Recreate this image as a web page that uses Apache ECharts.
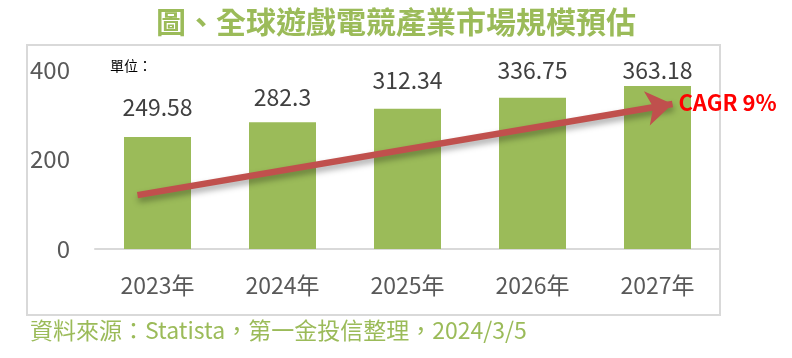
<!DOCTYPE html>
<html>
<head>
<meta charset="utf-8">
<script src="https://cdn.jsdelivr.net/npm/echarts@6/dist/echarts.min.js"></script>
<style>html,body{margin:0;padding:0;background:#fff;}#c{width:792px;height:358px;}</style>
</head>
<body>
<div id="c"></div>
<script>
var categories = ['2023年', '2024年', '2025年', '2026年', '2027年'];
var marketSize = [249.58, 282.3, 312.34, 336.75, 363.18];
var yTicks = [0, 200, 400];
var titleText = '圖、全球遊戲電競產業市場規模預估';
var unitText = '單位：';
var sourceText = '資料來源：Statista，第一金投信整理，2024/3/5';
var cagrText = 'CAGR 9%';
// arrow annotation endpoints in data space [category position, value]
var arrowStart = [-0.16, 120];
var arrowEnd = [4.12, 323];

var labelLift = [18, 13, 17, 16, 4];
var FONT = '"Noto Sans CJK TC", "Noto Sans", sans-serif';
var green = '#9bbb59';

var chart = echarts.init(document.getElementById('c'));
var option = {
  animation: false,
  backgroundColor: '#fff',
  title: {
    text: titleText,
    left: 'center',
    top: 2,
    textStyle: { fontFamily: FONT, fontSize: 30, fontWeight: 'bold', color: green }
  },
  grid: { left: 95, right: 72, top: 69.4, bottom: 109 },
  xAxis: [{
    type: 'category',
    data: categories,
    axisLine: { lineStyle: { color: '#d9d9d9', width: 2 } },
    axisTick: { show: false },
    axisLabel: { fontFamily: FONT, fontSize: 23, color: '#595959', margin: 25 }
  }, {
    type: 'value', min: -0.5, max: 4.5, show: false
  }],
  yAxis: {
    type: 'value',
    min: yTicks[0], max: yTicks[yTicks.length - 1], interval: yTicks[1] - yTicks[0],
    axisLine: { show: false },
    axisTick: { show: false },
    splitLine: { show: false },
    axisLabel: { fontFamily: FONT, fontSize: 24, color: '#595959', margin: 25 }
  },
  graphic: [
    { type: 'rect', shape: { x: 27, y: 45, width: 693, height: 270 },
      style: { fill: 'none', stroke: '#d9d9d9', lineWidth: 2 }, z: -1 },
    { type: 'text', left: 110, top: 59,
      style: { text: unitText, font: '14px ' + FONT, fill: '#000' } },
    { type: 'text', left: 30, top: 319,
      style: { text: sourceText, font: '23px ' + FONT, fill: green } }
  ],
  series: [{
    type: 'bar',
    barWidth: 67,
    itemStyle: { color: green },
    data: marketSize.map(function (v, i) {
      return { value: v, label: { distance: labelLift[i] } };
    }),
    label: {
      show: true, position: 'top',
      fontFamily: FONT, fontSize: 23, color: '#404040'
    },
    z: 2
  }, {
    type: 'line',
    xAxisIndex: 1,
    data: [],
    symbol: 'none',
    z: 5,
    markLine: {
      silent: true,
      symbol: ['none', 'arrow'],
      symbolSize: [26, 26],
      label: {
        show: true, position: 'end', formatter: cagrText, distance: 6,
        fontFamily: FONT, fontSize: 22, fontWeight: 'bold', color: '#ff0000'
      },
      lineStyle: {
        color: '#c0504d', width: 6.5, type: 'solid',
        shadowColor: 'rgba(0,0,0,0.35)', shadowBlur: 6, shadowOffsetY: 4, shadowOffsetX: 1
      },
      itemStyle: { color: '#c0504d' },
      data: [[{ coord: arrowStart }, { coord: arrowEnd }]]
    }
  }]
};
chart.setOption(option);
</script>
</body>
</html>
